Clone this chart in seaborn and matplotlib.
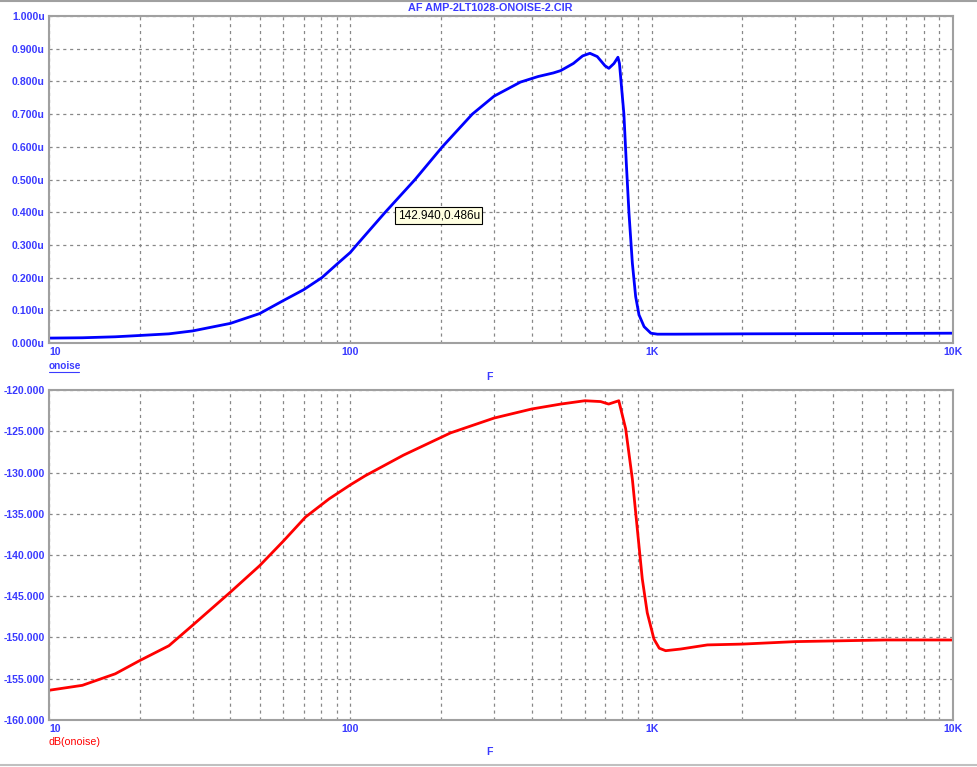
import numpy as np
import pandas as pd
import matplotlib
matplotlib.use("Agg")
import matplotlib.pyplot as plt
import seaborn as sns

# --- valeurs ---
freq_top = [10, 12.9, 16.6, 20, 25, 30, 40, 50, 60, 70, 80.5, 90, 100, 105, 130.6,
            164, 202, 254, 300, 367, 420, 472, 499, 550, 590, 624, 660, 700, 721,
            750, 773, 782, 809, 824, 841, 863, 885, 908, 944, 994, 1045, 1200,
            2000, 5000, 10000]
onoise = [0.015, 0.016, 0.019, 0.023, 0.028, 0.037, 0.06, 0.09, 0.13, 0.163, 0.2,
          0.24, 0.277, 0.30, 0.40, 0.50, 0.60, 0.70, 0.755, 0.798, 0.815, 0.826,
          0.833, 0.855, 0.878, 0.886, 0.876, 0.848, 0.840, 0.855, 0.874, 0.855,
          0.70, 0.55, 0.397, 0.244, 0.142, 0.086, 0.05, 0.03, 0.027, 0.027,
          0.028, 0.029, 0.030]

freq_db = [10, 12.9, 16.6, 20, 25, 30, 40, 50, 60, 71, 85, 100, 112, 150, 215,
           300, 400, 500, 600, 677, 720, 778, 820, 863, 896, 931, 967, 1018, 1060,
           1113, 1248, 1531, 2000, 3000, 6000, 10000]
db_onoise = [-156.4, -155.8, -154.4, -152.8, -151.0, -148.5, -144.5, -141.3,
             -138.3, -135.4, -133.2, -131.5, -130.4, -127.9, -125.2, -123.4,
             -122.3, -121.7, -121.3, -121.4, -121.7, -121.3, -124.7, -130.8,
             -136.8, -142.9, -147.0, -150.2, -151.3, -151.6, -151.4, -150.9,
             -150.8, -150.5, -150.3, -150.3]

x_ticks = [10, 100, 1000, 10000]
x_labels = ["10", "100", "1K", "10K"]
top_yticks = [0.0, 0.1, 0.2, 0.3, 0.4, 0.5, 0.6, 0.7, 0.8, 0.9, 1.0]
bot_yticks = [-160, -155, -150, -145, -140, -135, -130, -125, -120]

LABEL_BLUE = "#3a3aff"
FS = 7.6

sns.set_theme(style="white")
plt.rcParams["font.family"] = ["Liberation Sans", "DejaVu Sans"]

fig = plt.figure(figsize=(9.78, 7.67), dpi=100)
ax1 = fig.add_axes([0.0501, 0.5528, 0.9243, 0.4263])
ax2 = fig.add_axes([0.0501, 0.0613, 0.9243, 0.4302])

df_top = pd.DataFrame({"F": freq_top, "onoise": onoise})
df_db = pd.DataFrame({"F": freq_db, "dB": db_onoise})

sns.lineplot(data=df_top, x="F", y="onoise", ax=ax1, color="#0000ff", lw=2)
sns.lineplot(data=df_db, x="F", y="dB", ax=ax2, color="#ff0000", lw=2)


def style_axes(ax, yticks, ylabels):
    ax.set_xscale("log")
    ax.set_xlim(10, 10000)
    ax.set_ylim(yticks[0], yticks[-1])
    ax.set_xticks(x_ticks)
    ax.set_xticklabels(x_labels)
    ax.set_xticks([m * d for d in [10, 100, 1000] for m in range(2, 10)], minor=True)
    ax.set_yticks(yticks)
    ax.set_yticklabels(ylabels)
    ax.tick_params(which="both", length=0, colors=LABEL_BLUE, labelsize=FS, pad=3)
    for lab in ax.get_xticklabels() + ax.get_yticklabels():
        lab.set_fontweight("bold")
    ax.get_xticklabels()[0].set_ha("left")
    ax.grid(True, which="both", color="#888888", linestyle=(0, (2.5, 3)), lw=0.9)
    for sp in ax.spines.values():
        sp.set_color("#a0a0a0")
        sp.set_linewidth(1.5)
    ax.set_xlabel("")
    ax.set_ylabel("")


style_axes(ax1, top_yticks, [f"{v:.3f}u" for v in top_yticks])
style_axes(ax2, bot_yticks, [f"{v:.3f}" for v in bot_yticks])

# curseur
ax1.text(143.5, 0.39, "142.940,0.486u", fontsize=8.5, color="black", ha="left", va="center",
         bbox=dict(boxstyle="square,pad=0.22", fc="#ffffe1", ec="black", lw=0.8))

# textes
fig.text(0.501, 0.989, "AF AMP-2LT1028-ONOISE-2.CIR", color=LABEL_BLUE, fontsize=7.8,
         fontweight="bold", ha="center", va="center")
fig.text(0.0501, 0.523, "onoise", color=LABEL_BLUE, fontsize=7.2, fontweight="bold",
         ha="left", va="center")
fig.add_artist(plt.Line2D([0.0501, 0.0808], [0.5155, 0.5155], color=LABEL_BLUE, lw=0.8))
fig.text(0.501, 0.508, "F", color=LABEL_BLUE, fontsize=FS, fontweight="bold",
         ha="center", va="center")
fig.text(0.0501, 0.0326, "dB(onoise)", color="#ff0000", fontsize=7.7,
         ha="left", va="center")
fig.text(0.501, 0.0195, "F", color=LABEL_BLUE, fontsize=FS, fontweight="bold",
         ha="center", va="center")

# bordures de la fenetre
fig.add_artist(plt.Line2D([0, 1], [0.999, 0.999], color="#a0a0a0", lw=1.5))
fig.add_artist(plt.Line2D([0, 1], [0.003, 0.003], color="#c0c0c0", lw=1.5))

fig.savefig("out.png", dpi=100)
